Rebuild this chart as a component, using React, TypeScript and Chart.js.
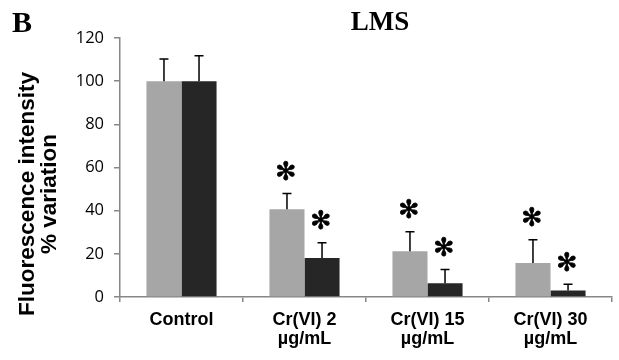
import React, { useEffect, useRef } from "react";
import { Chart, registerables } from "chart.js";

Chart.register(...registerables);

const categories: (string | string[])[] = [
  "Control",
  ["Cr(VI) 2", "µg/mL"],
  ["Cr(VI) 15", "µg/mL"],
  ["Cr(VI) 30", "µg/mL"],
];
const seriesA = [100, 40.7, 21.2, 15.7];
const seriesB = [100, 18.1, 6.4, 3.0];
const errorA = [10.3, 7.3, 9.0, 10.8];
const errorB = [11.8, 7.0, 6.3, 2.9];
const starsA = [false, true, true, true];
const starsB = [false, true, true, true];
const yTicks = [0, 20, 40, 60, 80, 100, 120];
const titleText = "LMS";
const panelText = "B";
const yTitleLines = ["Fluorescence intensity", "% variation"];

const GRAY = "#a6a6a6";
const DARK = "#262626";
const AXIS = "#878787";

const annotPlugin = {
  id: "annot",
  afterDatasetsDraw(chart: any) {
    const ctx = chart.ctx;
    const y = chart.scales.y;
    const errs = [errorA, errorB];
    const stars = [starsA, starsB];
    ctx.save();
    for (let d = 0; d < 2; d++) {
      const meta = chart.getDatasetMeta(d);
      const vals = chart.data.datasets[d].data as number[];
      meta.data.forEach((bar: any, i: number) => {
        const x = bar.x;
        const top = y.getPixelForValue(vals[i] + errs[d][i]);
        const base = y.getPixelForValue(vals[i]);
        ctx.strokeStyle = "#000";
        ctx.lineWidth = 1.5;
        ctx.beginPath();
        ctx.moveTo(x, base);
        ctx.lineTo(x, top);
        ctx.moveTo(x - 4.5, top);
        ctx.lineTo(x + 4.5, top);
        ctx.stroke();
        if (stars[d][i]) {
          ctx.fillStyle = "#000";
          ctx.strokeStyle = "#000";
          ctx.lineWidth = 0.8;
          ctx.font = "bold 25px 'DejaVu Sans'";
          ctx.textAlign = "center";
          ctx.textBaseline = "middle";
          ctx.fillText("✻", x - 1, top - 20);
          ctx.strokeText("✻", x - 1, top - 20);
        }
      });
    }
    ctx.restore();
  },
  afterDraw(chart: any) {
    const ctx = chart.ctx;
    ctx.save();
    ctx.fillStyle = "#000";
    ctx.font = "bold 30px 'Liberation Serif'";
    ctx.textAlign = "left";
    ctx.textBaseline = "alphabetic";
    ctx.fillText(panelText, 12, 32);
    ctx.font = "bold 27px 'Liberation Serif'";
    ctx.textAlign = "center";
    ctx.fillText(titleText, 380, 30);
    // y title
    ctx.font = "bold 22.5px 'Liberation Sans'";
    const cy = 194;
    ctx.translate(0, cy);
    ctx.rotate(-Math.PI / 2);
    ctx.textAlign = "center";
    ctx.textBaseline = "alphabetic";
    ctx.fillText(yTitleLines[0], 0, 33.5);
    ctx.fillText(yTitleLines[1], 0, 55.5);
    ctx.restore();
  },
};

export default function App() {
  const ref = useRef<HTMLCanvasElement>(null);
  useEffect(() => {
    if (!ref.current) return;
    const chart = new Chart(ref.current, {
      type: "bar",
      data: {
        labels: categories,
        datasets: [
          { data: seriesA, backgroundColor: GRAY, borderWidth: 0 },
          { data: seriesB, backgroundColor: DARK, borderWidth: 0 },
        ],
      },
      options: {
        responsive: false,
        animation: false,
        devicePixelRatio: 1,
        layout: { padding: { top: 38, right: 7, left: 0, bottom: 0 } },
        plugins: {
          legend: { display: false },
          tooltip: { enabled: false },
          title: { display: false },
        },
        datasets: {
          bar: { categoryPercentage: 0.57, barPercentage: 1.0 },
        },
        scales: {
          x: {
            afterFit: (s: any) => {
              s.height = 63;
            },
            grid: {
              drawOnChartArea: false,
              drawTicks: true,
              tickLength: 5,
              color: AXIS,
              lineWidth: 1.5,
            },
            border: { color: AXIS, width: 1.5 },
            ticks: {
              color: "#000",
              maxRotation: 0,
              autoSkip: false,
              padding: 8,
              font: { family: "'Liberation Sans'", weight: "bold", size: 18, lineHeight: 1.06 },
            },
          },
          y: {
            min: 0,
            max: 120,
            afterFit: (s: any) => {
              s.width = 120;
            },
            afterBuildTicks: (s: any) => {
              s.ticks = yTicks.map((v) => ({ value: v }));
            },
            grid: {
              drawOnChartArea: false,
              drawTicks: true,
              tickLength: 6,
              color: AXIS,
              lineWidth: 1.5,
            },
            border: { color: AXIS, width: 1.5 },
            ticks: {
              color: "#000",
              padding: 10,
              font: { family: "'Open Sans'", size: 16.5 },
            },
          },
        },
      },
      plugins: [annotPlugin],
    });
    return () => chart.destroy();
  }, []);
  return (
    <div style={{ position: "absolute", left: 0, top: 0, width: 619, height: 360, background: "#fff" }}>
      <canvas ref={ref} width={619} height={360} />
    </div>
  );
}
